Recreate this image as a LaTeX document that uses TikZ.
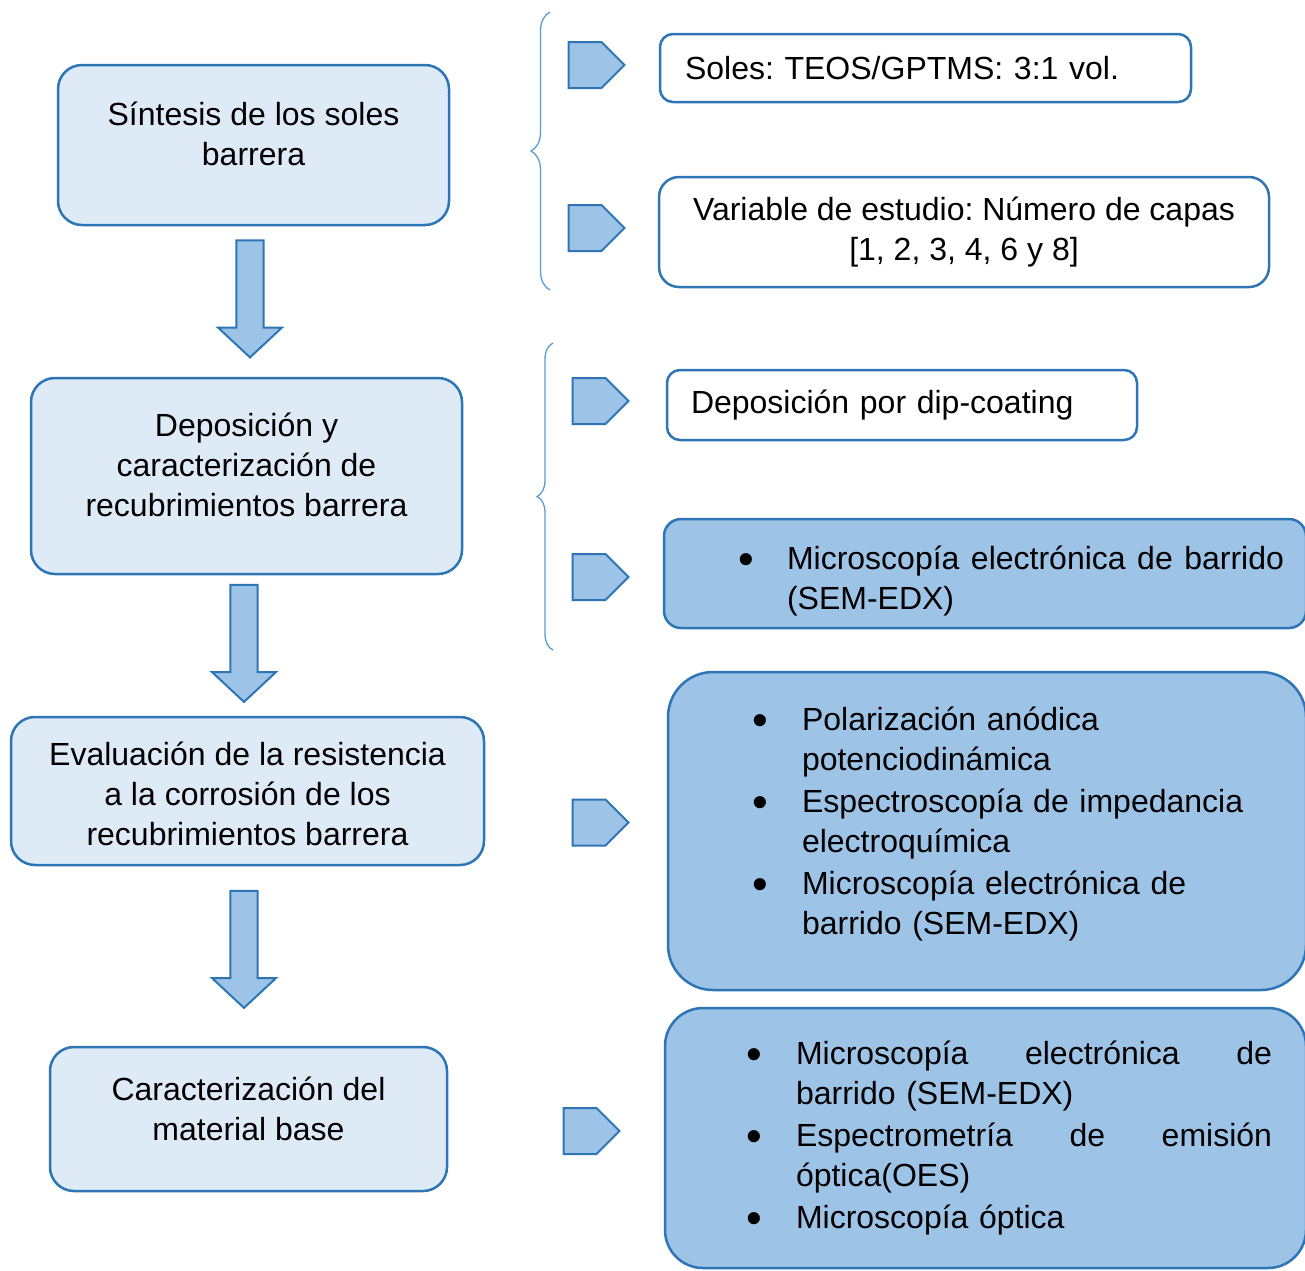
\documentclass[tikz,border=0pt]{standalone}
\usepackage{fontspec}
\setmainfont{Liberation Sans}
\usetikzlibrary{shapes.arrows,shapes.symbols,decorations.pathreplacing}

\definecolor{boxline}{HTML}{2E75B6}
\definecolor{boxlight}{HTML}{DEEBF7}
\definecolor{boxdark}{HTML}{9DC3E6}
\definecolor{braceline}{HTML}{5B9BD5}

\newcommand{\bul}[2]{\hspace*{#1}\makebox[#2][l]{\raisebox{-5pt}{\scalebox{1.4}{\textbullet}}}}
\newcommand{\just}[2]{\makebox[#1][l]{#2}}
\newcommand{\lowpad}[1]{\rule[-#1]{0pt}{#1}}
\frenchspacing

\begin{document}
\begin{tikzpicture}[
  x=1pt, y=-1pt,
  every node/.style={font=\fontsize{32}{40}\selectfont},
  stage/.style={draw=boxline, fill=boxlight, line width=2.5pt, rounded corners=24pt, align=center, inner sep=0pt},
  note/.style={draw=boxline, fill=white, line width=2.5pt, rounded corners=13pt, inner sep=0pt},
  detail/.style={draw=boxline, fill=boxdark, line width=2.5pt, inner sep=0pt, align=left},
  down arrow/.style={single arrow, shape border rotate=270, draw=boxline, fill=boxdark, line width=2pt,
    minimum height=117pt, minimum width=64pt, single arrow head extend=18pt, single arrow tip angle=94, inner sep=0pt},
  plate/.style={signal, signal to=east, signal pointer angle=90, draw=boxline, fill=boxdark, line width=2pt,
    minimum width=56pt, minimum height=46pt, inner sep=0pt},
  bracket/.style={draw=braceline, line width=1.3pt, decorate, decoration={brace, amplitude=#1}}
]
\useasboundingbox (0,0) rectangle (1305,1270);

% Left column: stages
\node[stage, minimum width=391pt, minimum height=160pt] (synth) at (253.5,145)
  {Síntesis de los soles\\barrera\lowpad{22pt}};
\node[stage, minimum width=431pt, minimum height=196pt] (depo) at (246.5,476)
  {Deposición y\\caracterización de\\recubrimientos barrera\lowpad{23pt}};
\node[stage, minimum width=473pt, minimum height=148pt] (evalr) at (247.5,791)
  {\rule{0pt}{30pt}Evaluación de la resistencia\\a la corrosión de los\\recubrimientos barrera};
\node[stage, minimum width=397pt, minimum height=144pt] (carac) at (248.5,1119)
  {Caracterización del\\material base\lowpad{21pt}};

\node[down arrow] (arr1) at (250,292.5) {\rule{25pt}{0pt}};
\node[down arrow] (arr2) at (244,637) {\rule{25pt}{0pt}};
\node[down arrow] (arr3) at (244,943) {\rule{25pt}{0pt}};

% Braces
\draw[bracket=19pt] (550,290) -- (550,12);
\draw[bracket=16pt] (553,650) -- (553,343);

% Pointers
\node[plate] (p1) at (585,65) {};
\node[plate] (p2) at (585,228) {};
\node[plate] (p3) at (589,401) {};
\node[plate] (p4) at (589,577) {};
\node[plate] (p5) at (589,822.5) {};
\node[plate] (p6) at (580,1131) {};

% Right column: details
\node[note, minimum width=531pt, minimum height=68pt, text width=481pt, inner xsep=25pt, align=left] (soles) at (925.5,68)
  {Soles: TEOS/GPTMS: 3:1 vol.};
\node[note, rounded corners=20pt, minimum width=610pt, minimum height=110pt, align=center] (capas) at (964,232)
  {Variable de estudio: Número de capas\\{}[1, 2, 3, 4, 6 y 8]};
\node[note, minimum width=470pt, minimum height=70pt, text width=422pt, inner xsep=24pt, align=left] (dip) at (902,405)
  {Deposición por dip-coating};

\node[detail, rounded corners=17pt, minimum width=642pt, minimum height=109pt, text width=642pt] (sem) at (985,573.5)
  {\rule{0pt}{38pt}\bul{74pt}{49pt}\just{497pt}{Microscopía\hfill electrónica\hfill de\hfill barrido}\\
   \hspace*{123pt}(SEM-EDX)};
\node[detail, rounded corners=45pt, minimum width=638pt, minimum height=318pt, text width=638pt] (polar) at (987,831)
  {\bul{84pt}{50pt}Polarización anódica\\
   \hspace*{134pt}potenciodinámica\\[2pt]
   \bul{84pt}{50pt}Espectroscopía de impedancia\\
   \hspace*{134pt}electroquímica\\[2pt]
   \bul{84pt}{50pt}Microscopía electrónica de\\
   \hspace*{134pt}barrido (SEM-EDX)\lowpad{21pt}};
\node[detail, rounded corners=38pt, minimum width=641pt, minimum height=260pt, text width=641pt] (oes) at (985.5,1138)
  {\bul{81pt}{50pt}\just{476pt}{Microscopía\hfill electrónica\hfill de}\\
   \hspace*{131pt}barrido (SEM-EDX)\\[2pt]
   \bul{81pt}{50pt}\just{476pt}{Espectrometría\hfill de\hfill emisión}\\
   \hspace*{131pt}óptica(OES)\\[2pt]
   \bul{81pt}{50pt}Microscopía óptica};

\end{tikzpicture}
\end{document}
